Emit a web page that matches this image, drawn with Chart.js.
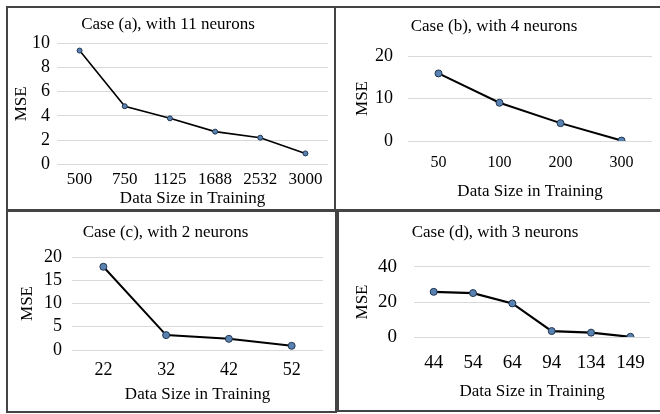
<!DOCTYPE html>
<html>
<head>
<meta charset="utf-8">
<script src="https://cdn.jsdelivr.net/npm/chart.js@4/dist/chart.umd.min.js"></script>
<style>
body{margin:0;background:#fff;width:660px;height:414px;overflow:hidden;position:relative;}
.panel{position:absolute;box-sizing:border-box;border:2px solid #444;}
canvas{position:absolute;}
</style>
</head>
<body>
<div class="panel" style="left:6px;top:6px;width:330px;height:205px;"></div>
<div class="panel" style="left:334px;top:6px;width:340px;height:205px;"></div>
<div class="panel" style="left:6px;top:210px;width:331px;height:203px;"></div>
<div class="panel" style="left:337px;top:210px;width:330px;height:202px;"></div>
<canvas id="chartA" width="326" height="201" style="left:8px;top:8px;"></canvas>
<canvas id="chartB" width="324" height="201" style="left:336px;top:8px;"></canvas>
<canvas id="chartC" width="327" height="199" style="left:8px;top:212px;"></canvas>
<canvas id="chartD" width="321" height="198" style="left:339px;top:212px;"></canvas>
<script>
// data
const sizesA=["500","750","1125","1688","2532","3000"];
const mseA=[9.4,4.8,3.8,2.7,2.2,0.9];
const sizesB=["50","100","200","300"];
const mseB=[15.9,9.0,4.2,0.1];
const sizesC=["22","32","42","52"];
const mseC=[17.9,3.2,2.4,0.9];
const sizesD=["44","54","64","94","134","149"];
const mseD=[25.8,25.1,19.2,3.4,2.5,0.1];

const titleA="Case (a), with 11 neurons";
const titleB="Case (b), with 4 neurons";
const titleC="Case (c), with 2 neurons";
const titleD="Case (d), with 3 neurons";

const serif="'Liberation Serif','Times New Roman',serif";
Chart.defaults.font.family=serif;
Chart.defaults.color="#000";

// s = layout numbers for one panel
function makeChart(id,title,labels,values,yMax,yStep,s){
    const ctx=document.getElementById(id).getContext("2d");
    return new Chart(ctx,{
        type:"line",
        data:{
            labels:labels,
            datasets:[{
                data:values,
                borderColor:"#000",
                borderWidth:s.lineW,
                pointRadius:s.ptR,
                pointBackgroundColor:"#5a82b0",
                pointBorderColor:"#1e3550",
                pointBorderWidth:1,
                tension:0
            }]
        },
        options:{
            responsive:false,
            animation:false,
            events:[],
            layout:{padding:{left:0,right:s.padR,top:0,bottom:0}},
            plugins:{
                legend:{display:false},
                tooltip:{enabled:false},
                title:{
                    display:true,
                    text:title,
                    font:{size:17,weight:"normal"},
                    color:"#000",
                    padding:{top:s.tTop-0.6,bottom:s.tBot-0.6}
                }
            },
            scales:{
                x:{
                    offset:true,
                    grid:{display:false,drawTicks:false},
                    border:{display:false},
                    ticks:{font:{size:s.xFont},padding:s.xPad,maxRotation:0,autoSkip:false},
                    title:{display:true,text:"Data Size in Training",font:{size:17},padding:{top:0,bottom:Math.max(0,s.xtPad-0.6)}},
                    afterFit:function(scale){scale.height=s.xH;}
                },
                y:{
                    min:0,
                    max:yMax,
                    grid:{color:"#d9d9d9",lineWidth:1,drawTicks:false},
                    border:{display:false},
                    ticks:{stepSize:yStep,font:{size:s.yFont},padding:s.yPad,autoSkip:false},
                    title:{display:true,text:"MSE",font:{size:17},padding:{top:s.ytPad-0.6,bottom:0}},
                    afterFit:function(scale){scale.width=s.yW;}
                }
            }
        }
    });
}

makeChart("chartA",titleA,sizesA,mseA,10,2,{padR:6,tTop:7.4,tBot:8.7,xFont:17,xPad:5.5,xtPad:0,xH:44.7,yFont:18,yPad:7,ytPad:4.4,yW:49,lineW:1.6,ptR:2.5});
makeChart("chartB",titleB,sizesB,mseB,20,10,{padR:8,tTop:9.4,tBot:19.4,xFont:16,xPad:11.8,xtPad:7.4,xH:68,yFont:18,yPad:15,ytPad:17.4,yW:72,lineW:2,ptR:3.5});
makeChart("chartC",titleC,sizesC,mseC,20,5,{padR:12,tTop:11.4,tBot:14.4,xFont:18,xPad:9.8,xtPad:6.4,xH:61,yFont:18,yPad:10,ytPad:10.4,yW:64,lineW:2,ptR:3.5});
makeChart("chartD",titleD,sizesD,mseD,40,20,{padR:9,tTop:11.4,tBot:24.4,xFont:19,xPad:14.6,xtPad:8.4,xH:73,yFont:19,yPad:17,ytPad:14.4,yW:75,lineW:2.2,ptR:3.5});
</script>
</body>
</html>
